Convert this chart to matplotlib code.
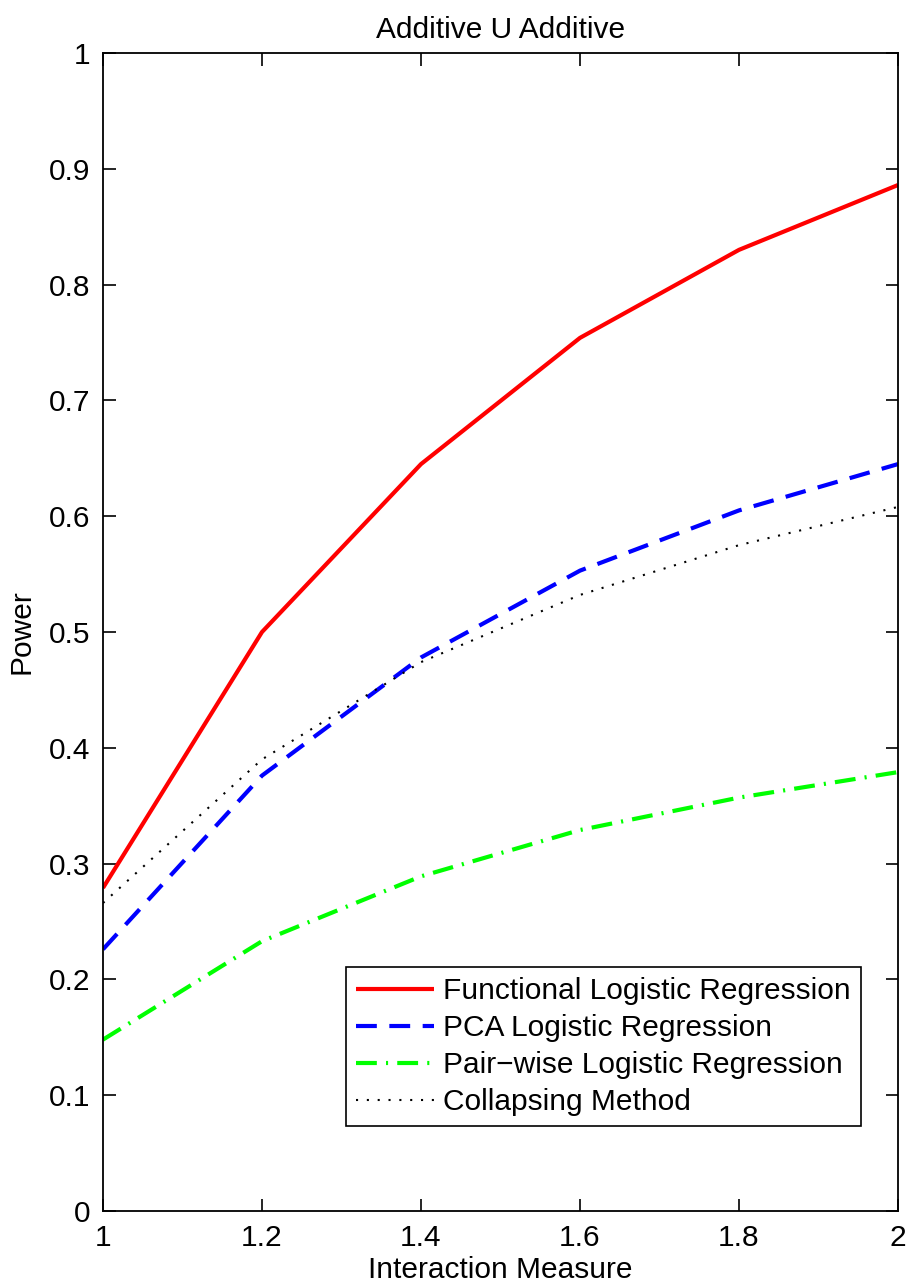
import matplotlib
matplotlib.use("Agg")
import matplotlib.pyplot as plt

plt.rcParams['font.family'] = ['Liberation Sans', 'DejaVu Sans']

interaction = [1.0, 1.2, 1.4, 1.6, 1.8, 2.0]
functional_lr = [0.279, 0.500, 0.645, 0.754, 0.830, 0.886]
pca_lr = [0.226, 0.376, 0.478, 0.553, 0.605, 0.645]
pairwise_lr = [0.148, 0.233, 0.289, 0.329, 0.357, 0.379]
collapsing = [0.266, 0.390, 0.474, 0.532, 0.575, 0.608]

xticks = [1, 1.2, 1.4, 1.6, 1.8, 2]
xticklabels = ["1", "1.2", "1.4", "1.6", "1.8", "2"]
yticks = [0, 0.1, 0.2, 0.3, 0.4, 0.5, 0.6, 0.7, 0.8, 0.9, 1]
yticklabels = ["0", "0.1", "0.2", "0.3", "0.4", "0.5", "0.6", "0.7", "0.8", "0.9", "1"]

FS = 21.5

fig = plt.figure(figsize=(9.1, 12.85), dpi=100)
ax = fig.add_axes([103 / 910, 1 - 1211 / 1285, (898 - 103) / 910, (1211 - 53) / 1285])

ax.plot(interaction, functional_lr, color='#ff0000', lw=3.0, solid_capstyle='butt',
        label='Functional Logistic Regression')
ax.plot(interaction, pca_lr, color='#0000ff', lw=3.0, dashes=(5, 3),
        label='PCA Logistic Regression')
ax.plot(interaction, pairwise_lr, color='#00ff00', lw=3.0, dashes=(5, 2.2, 0.5, 2.2),
        label='Pair\u2212wise Logistic Regression')
ax.plot(interaction, collapsing, color='black', lw=1.5, dashes=(1, 4.2),
        label='Collapsing Method')

ax.set_xlim(1, 2)
ax.set_ylim(0, 1)
ax.set_xticks(xticks)
ax.set_xticklabels(xticklabels)
ax.set_yticks(yticks)
ax.set_yticklabels(yticklabels)
ax.tick_params(direction='in', length=9, width=1.2, labelsize=FS, pad=9,
               top=True, right=True)
for s in ax.spines.values():
    s.set_linewidth(1.3)

ax.set_title('Additive U Additive', fontsize=FS, pad=11)
ax.set_xlabel('Interaction Measure', fontsize=FS, labelpad=3)
ax.set_ylabel('Power', fontsize=FS, labelpad=10)

leg = ax.legend(loc='lower right', bbox_to_anchor=(0.953, 0.073), fontsize=FS,
                frameon=True, fancybox=False, edgecolor='black', framealpha=1,
                handlelength=2.6, handletextpad=0.3, borderpad=0.35, labelspacing=0.3,
                borderaxespad=0)
leg.get_frame().set_linewidth(1.2)

fig.savefig('out.png', dpi=100)
